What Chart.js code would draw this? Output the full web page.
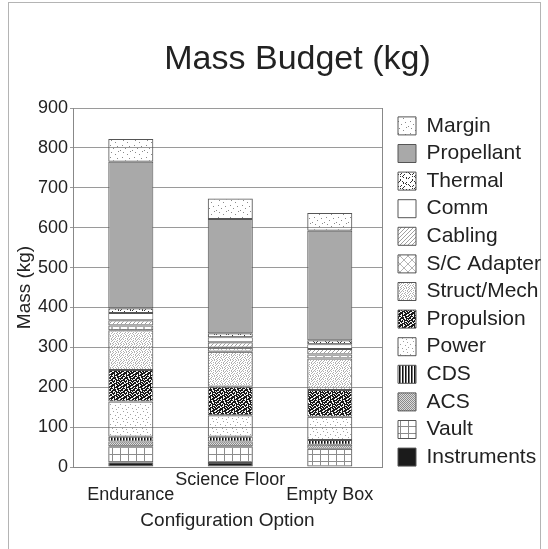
<!DOCTYPE html>
<html>
<head>
<meta charset="utf-8">
<title>Mass Budget (kg)</title>
<script src="https://cdn.jsdelivr.net/npm/chart.js@4.4.1/dist/chart.umd.min.js"></script>
<style>
    html, body { margin: 0; padding: 0; background: #fff; overflow: hidden; }
    #frame { position: absolute; left: 8px; top: 2px; width: 531px; height: 600px; border: 1px solid #b4b4b4; border-bottom: none; }
    #wrap { position: absolute; left: 0; top: 0; width: 548px; height: 549px; }
</style>
</head>
<body>
<div id="frame"></div>
<div id="wrap"><canvas id="massChart"></canvas></div>
<script>
// Configurations (x axis)
const categories = ['Endurance', 'Science Floor', 'Empty Box'];
// staggered tick labels, as in the original slide
const xTickLabels = [['', 'Endurance'], ['Science Floor', ''], ['', 'Empty Box']];
const yTickValues = [0, 100, 200, 300, 400, 500, 600, 700, 800, 900];

// Mass per subsystem (kg), bottom of the stack first
const instruments = [12, 10, 0];
const vault = [40, 42, 46];
const acs = [12, 12, 10];
const cds = [12, 12, 12];
const power = [88, 54, 58];
const propulsion = [79, 71, 67];
const structMech = [100, 88, 79];
const scAdapter = [12, 10, 10];
const cabling = [13, 14, 14];
const comm = [18, 12, 12];
const thermal = [12, 10, 10];
const propellant = [367, 287, 274];
const margin = [57, 51, 45];

const seriesNames = ['Instruments', 'Vault', 'ACS', 'CDS', 'Power', 'Propulsion', 'Struct/Mech',
    'S/C Adapter', 'Cabling', 'Comm', 'Thermal', 'Propellant', 'Margin'];
const seriesValues = [instruments, vault, acs, cds, power, propulsion, structMech,
    scAdapter, cabling, comm, thermal, propellant, margin];

document.addEventListener("DOMContentLoaded", function () {
    Chart.defaults.font.family = "'Liberation Sans', Arial, sans-serif";
    Chart.defaults.color = '#222';

    // small bitmap tile -> canvas pattern
    function tile(rows, colors) {
        const c = document.createElement('canvas');
        c.width = rows[0].length;
        c.height = rows.length;
        const g = c.getContext('2d');
        rows.forEach((row, y) => {
            for (let x = 0; x < row.length; x++) {
                const col = colors[row[x]];
                if (col) {
                    g.fillStyle = col;
                    g.fillRect(x, y, 1, 1);
                }
            }
        });
        return g.createPattern(c, 'repeat');
    }

    const diag = [], cross = [];
    for (let y = 0; y < 8; y++) {
        let d = '', k = '';
        for (let x = 0; x < 8; x++) {
            d += ((x + y) % 4 === 0) ? '+' : '.';
            k += (x === y || x === 7 - y) ? '+' : '.';
        }
        diag.push(d);
        cross.push(k);
    }

    const fills = {
        'Instruments': '#1b1b1b',
        'Vault': tile(['+.......', '+.......', '+.......', '+.......', '+.......', '+.......', '++++++++'], {'+': '#8c8c8c'}),
        'ACS': tile(['+.', '.+'], {'+': '#8a8a8a', '.': '#dcdcdc'}),
        'CDS': tile(['#+.'], {'#': '#111', '+': '#777', '.': '#fff'}),
        'Power': tile([
            '..........',
            '...+......',
            '.......+..',
            '..........',
            '+.........',
            '.....+....',
            '..........',
            '........+.',
            '..+.......',
            '......+...'], {'+': '#a0a0a0'}),
        'Propulsion': tile([
            '##..###.##.#',
            '#..####..###',
            '.####.#.###.',
            '##.#..####..',
            '#.###.#..###',
            '.##..###.##.',
            '###.####..##',
            '#..##..##.#.',
            '.####.#.####',
            '##..###.#..#',
            '#.##.#..###.',
            '.###..###.##'], {'#': '#1a1a1a', '.': '#f4f4f4'}),
        'Struct/Mech': tile([
            '.+..+.+.',
            '+..+....',
            '..+..+.+',
            '.+.+...+',
            '+....+..',
            '..+.+..+',
            '.+...+..',
            '+..+..+.'], {'+': '#b0b0b0'}),
        'S/C Adapter': tile(cross, {'+': '#b5b5b5'}),
        'Cabling': tile(diag, {'+': '#a0a0a0'}),
        'Comm': '#ffffff',
        'Thermal': tile([
            '....#.......',
            '...#..#.....',
            '..#....#..#.',
            '.......#.#..',
            '#.........#.',
            '.#...#......',
            '..#.#...#...',
            '.......#....',
            '....#.#.....',
            '.#.....#..#.',
            '#.........#.',
            '....#.......'], {'#': '#333'}),
        'Propellant': '#a9a9a9',
        'Margin': tile([
            '............',
            '..+.........',
            '.........+..',
            '............',
            '.....+......',
            '............',
            '+...........',
            '..........+.',
            '...+........',
            '............',
            '.......+....',
            '............'], {'+': '#8a8a8a'})
    };

    const datasets = seriesNames.map((name, k) => ({
        label: name,
        data: seriesValues[k].map((v, i) => ({x: i, y: v})),
        backgroundColor: fills[name],
        borderColor: '#555',
        borderWidth: 1,
        borderSkipped: false,
        barPercentage: 0.9,
        categoryPercentage: 0.503
    }));

    // move the title centre like in the original
    const titleShift = {
        id: 'titleShift',
        afterLayout(chart) {
            if (chart.titleBlock) {
                chart.titleBlock.left = 47;
                chart.titleBlock.right = 548;
            }
        }
    };

    new Chart(document.getElementById('massChart'), {
        type: 'bar',
        data: { datasets: datasets },
        plugins: [titleShift],
        options: {
            responsive: true,
            maintainAspectRatio: false,
            animation: false,
            layout: { padding: { left: 8, top: 34, right: 0, bottom: 0 } },
            scales: {
                x: {
                    type: 'linear',
                    stacked: true,
                    offset: false,
                    min: -0.581,
                    max: 2.525,
                    grid: { display: false, drawTicks: false, offset: false },
                    border: { color: '#888', width: 1 },
                    ticks: {
                        stepSize: 1,
                        autoSkip: false,
                        maxRotation: 0,
                        includeBounds: false,
                        padding: 5.5,
                        font: { size: 18, lineHeight: '15px' },
                        callback: v => xTickLabels[v]
                    },
                    afterBuildTicks(s) {
                        s.ticks = categories.map((c, i) => ({ value: i }));
                    },
                    title: {
                        display: true,
                        text: 'Configuration Option',
                        font: { size: 19 },
                        padding: { top: 3.8, bottom: 16.8 }
                    },
                    afterFit(s) { s.height = 82; }
                },
                y: {
                    stacked: true,
                    min: 0,
                    max: 900,
                    afterBuildTicks(s) {
                        s.ticks = yTickValues.map(v => ({ value: v }));
                    },
                    ticks: { font: { size: 18 }, padding: 2 },
                    grid: { color: '#9a9a9a', lineWidth: 1, tickLength: 3 },
                    border: { color: '#888', width: 1 },
                    title: {
                        display: true,
                        text: 'Mass (kg)',
                        font: { size: 19 },
                        padding: { top: 5, bottom: 2 }
                    },
                    afterFit(s) { s.width = 65; }
                },
                // only for the right frame line of the plot
                y2: {
                    position: 'right',
                    display: true,
                    grid: { display: false, drawTicks: false },
                    ticks: { display: false },
                    border: { display: true, color: '#888', width: 1 },
                    afterFit(s) { s.width = 9.4; }
                }
            },
            plugins: {
                tooltip: { enabled: false },
                title: {
                    display: true,
                    text: 'Mass Budget (kg)',
                    font: { size: 34, weight: 'normal' },
                    color: '#222',
                    padding: { top: 5.6, bottom: 27.6 }
                },
                legend: {
                    position: 'right',
                    reverse: true,
                    maxWidth: 156.6,
                    labels: {
                        boxWidth: 18,
                        boxHeight: 18,
                        padding: 6.6,
                        font: { size: 21 },
                        color: '#222'
                    }
                }
            }
        }
    });
});
</script>
</body>
</html>
